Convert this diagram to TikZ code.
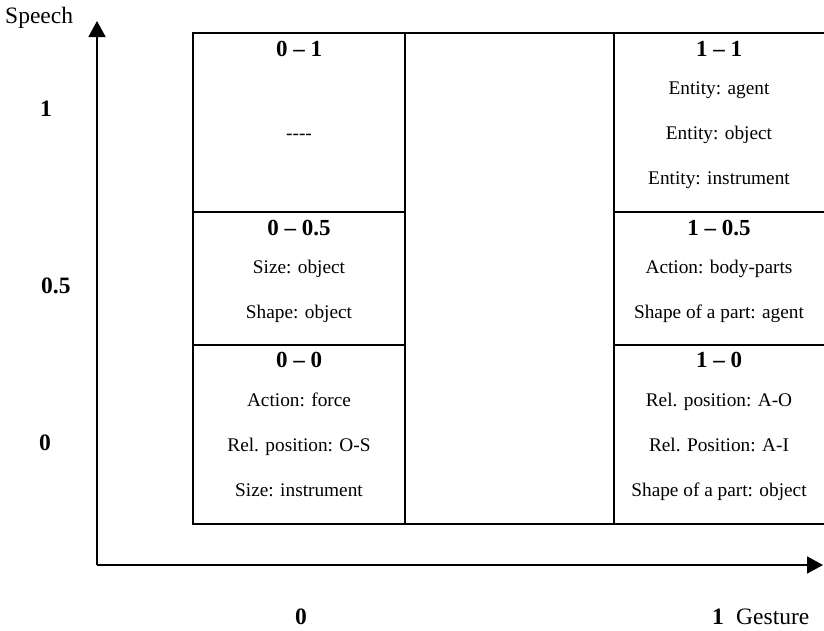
\documentclass[tikz,border=0pt]{standalone}
\usepackage{fontspec}
\setmainfont{Liberation Serif}
\usetikzlibrary{arrows.meta}
\begin{document}
\begin{tikzpicture}[x=1pt,y=-1pt,
  txt/.style={inner sep=0pt,anchor=base,font=\fontsize{19.3}{21}\selectfont},
  ttl/.style={inner sep=0pt,anchor=base,font=\fontsize{23}{25}\selectfont\bfseries},
  lbl/.style={inner sep=0pt,anchor=base west,font=\fontsize{23.5}{25}\selectfont},
  num/.style={inner sep=0pt,anchor=base west,font=\fontsize{23.5}{25}\selectfont\bfseries},
  grid/.style={line width=1.4pt},
  axis/.style={line width=1.8pt,-{Triangle[length=16pt,width=17pt]}}]
\useasboundingbox (0,0) rectangle (824,630);
% axes
\coordinate (o) at (97,565);
\coordinate (ytip) at (97,21);
\coordinate (xtip) at (823,565);
\draw[axis] (o) -- (ytip);
\draw[axis] (o) -- (xtip);
% grid
\draw[grid] (193,33) rectangle (828,524);
\draw[grid] (405,33) -- (405,524);
\draw[grid] (614,33) -- (614,524);
\draw[grid] (193,212) -- (405,212);
\draw[grid] (193,345) -- (405,345);
\draw[grid] (614,212) -- (828,212);
\draw[grid] (614,345) -- (828,345);
% axis labels
\node[lbl] (speech) at (5,23) {Speech};
\node[num] (y1) at (40,116) {1};
\node[num] (y05) at (41,293) {0.5};
\node[num] (y0) at (39,450) {0};
\node[num,anchor=base] (x0) at (301,624) {0};
\node[num,anchor=base] (x1) at (718,624) {1};
\node[lbl] (gesture) at (736,624) {Gesture};
% cell 0-1
\node[ttl] (t01) at (299,56) {0 -- 1};
\node[txt] (c01a) at (299,139) {{-}{-}{-}{-}};
% cell 1-1
\node[ttl] (t11) at (719,56) {1 -- 1};
\node[txt] (c11a) at (719,94) {Entity: agent};
\node[txt] (c11b) at (719,139) {Entity: object};
\node[txt] (c11c) at (719,184) {Entity: instrument};
% cell 0-0.5
\node[ttl] (t005) at (299,235) {0 -- 0.5};
\node[txt] (c005a) at (299,273) {Size: object};
\node[txt] (c005b) at (299,318) {Shape: object};
% cell 1-0.5
\node[ttl] (t105) at (719,235) {1 -- 0.5};
\node[txt] (c105a) at (719,273) {Action: body-parts};
\node[txt] (c105b) at (719,318) {Shape of a part: agent};
% cell 0-0
\node[ttl] (t00) at (299,367) {0 -- 0};
\node[txt] (c00a) at (299,406) {Action: force};
\node[txt] (c00b) at (299,451) {Rel. position: O-S};
\node[txt] (c00c) at (299,496) {Size: instrument};
% cell 1-0
\node[ttl] (t10) at (719,367) {1 -- 0};
\node[txt] (c10a) at (719,406) {Rel. position: A-O};
\node[txt] (c10b) at (719,451) {Rel. Position: A-I};
\node[txt] (c10c) at (719,496) {Shape of a part: object};
\end{tikzpicture}
\end{document}
